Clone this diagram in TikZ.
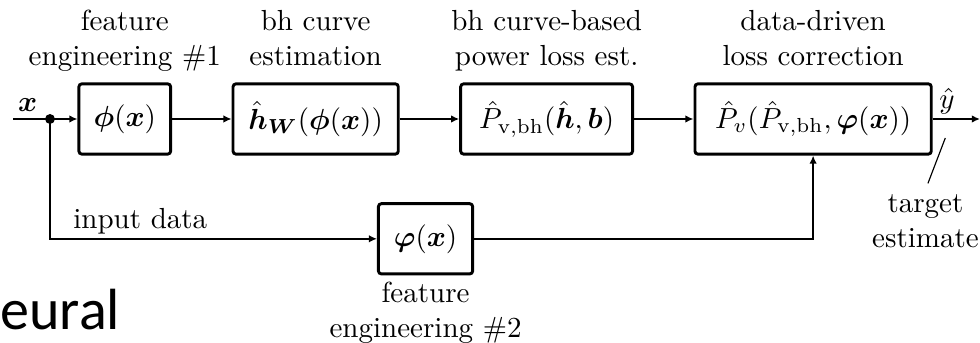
\documentclass[tikz,border=0pt]{standalone}
\usepackage{fontspec}
\newfontfamily\slidefont{Carlito}
\usepackage{amsmath,bm}
\usetikzlibrary{arrows.meta,positioning}

\begin{document}
\begin{tikzpicture}[
    blk/.style={draw, line width=1pt, rounded corners=1pt, minimum height=0.85cm, inner sep=2pt},
    lbl/.style={align=center, inner sep=1pt, text depth=0pt},
    con/.style={semithick, -{Latex[length=2.8pt,width=2.6pt]}},
    node distance=0.72cm
  ]
  \useasboundingbox (0,0) rectangle (11.86,4.15);

  % Main chain
  \node[blk, minimum width=1.11cm] (phi) at (1.51,2.71) {$\bm{\phi}(\bm{x})$};
  \node[blk, minimum width=2.0cm, right=of phi] (hw) {$\hat{\bm{h}}_{\bm{W}}(\bm{\phi}(\bm{x}))$};
  \node[blk, minimum width=2.08cm, right=of hw] (pbh) {$\hat{P}_{\mathrm{v,bh}}(\hat{\bm{h}},\bm{b})$};
  \node[blk, minimum width=2.86cm, right=of pbh] (pv) {$\hat{P}_{v}(\hat{P}_{\mathrm{v,bh}},\bm{\varphi}(\bm{x}))$};

  % Second feature path
  \node[blk, minimum width=1.14cm] (vphi) at (5.15,1.26) {$\bm{\varphi}(\bm{x})$};

  % Block labels
  \node[lbl, above=0.16cm of phi] (lphi) {feature\\engineering \#1};
  \node[lbl, above=0.16cm of hw] (lhw) {bh curve\\estimation};
  \node[lbl, above=0.16cm of pbh] (lpbh) {bh curve-based\\power loss est.};
  \node[lbl, above=0.16cm of pv] (lpv) {data-driven\\loss correction};
  \node[lbl, below=0.04cm of vphi] (lvphi) {feature\\engineering \#2};

  % Input and split
  \coordinate (xin) at (0.16,2.71);
  \fill (0.605,2.71) circle (0.06) coordinate (split);
  \node[inner sep=0pt, anchor=base] (xlbl) at (0.335,2.8) {$\bm{x}$};
  \draw[semithick] (xin) -- (split);
  \draw[con] (split) -- (phi);
  \draw[con] (phi) -- (hw);
  \draw[con] (hw) -- (pbh);
  \draw[con] (pbh) -- (pv);

  % Input data path
  \draw[con] (split) |- (vphi);
  \node[inner sep=0pt, anchor=base west] (ldata) at (0.88,1.39) {input data};
  \draw[con] (vphi) -| (pv);

  % Output
  \coordinate (yend) at (11.86,2.71);
  \draw[con] (pv) -- (yend);
  \node[inner sep=0pt] (yhat) at (11.46,2.92) {$\hat{y}$};
  \node[lbl] (ltarget) at (11.2,1.47) {target\\estimate};
  \coordinate (tick) at (11.44,2.48);
  \draw[thin] (tick) -- ([xshift=0.03cm,yshift=0.1cm]ltarget.north);

  % Clipped slide text
  \node[font=\slidefont\fontsize{20}{24}\selectfont, anchor=base west, inner sep=0pt] (neural) at (0,0.16) {eural};
\end{tikzpicture}
\end{document}
